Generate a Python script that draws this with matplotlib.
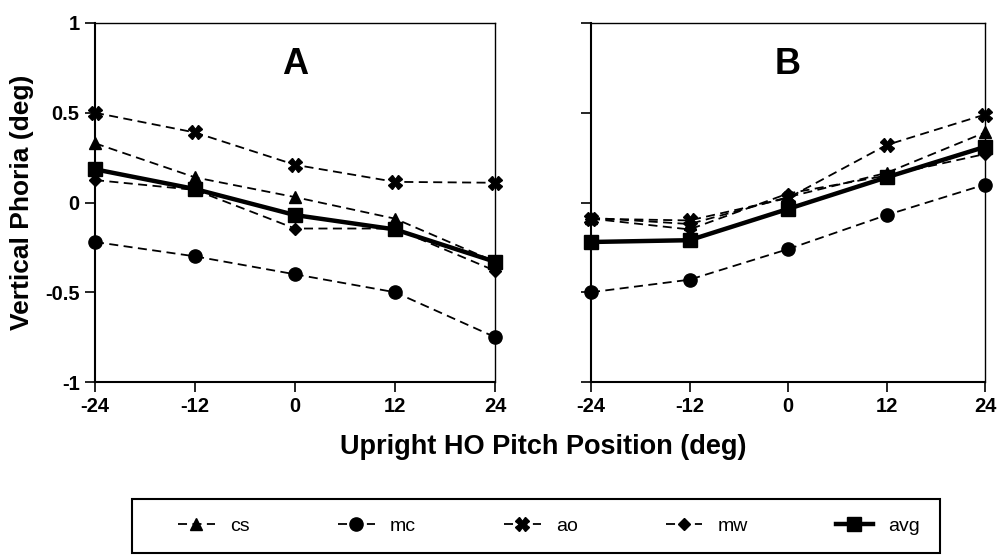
import matplotlib
matplotlib.use("Agg")
import matplotlib.pyplot as plt
from matplotlib.lines import Line2D
from matplotlib.patches import Rectangle

plt.rcParams['font.family'] = ['Liberation Sans', 'DejaVu Sans']
plt.rcParams['font.weight'] = 'bold'

positions = [-24, -12, 0, 12, 24]
xtick_labels = ['-24', '-12', '0', '12', '24']
yticks = [-1, -0.5, 0, 0.5, 1]
ytick_labels = ['-1', '-0.5', '0', '0.5', '1']
series_names = ['cs', 'mc', 'ao', 'mw', 'avg']

# Panel A
cs_A = [0.33, 0.14, 0.03, -0.09, -0.33]
mc_A = [-0.22, -0.30, -0.40, -0.50, -0.75]
ao_A = [0.50, 0.39, 0.21, 0.115, 0.11]
mw_A = [0.125, 0.07, -0.145, -0.145, -0.38]
avg_A = [0.185, 0.075, -0.07, -0.15, -0.33]

# Panel B
cs_B = [-0.085, -0.12, 0.03, 0.165, 0.39]
mc_B = [-0.50, -0.43, -0.26, -0.07, 0.10]
ao_B = [-0.09, -0.10, 0.025, 0.32, 0.49]
mw_B = [-0.09, -0.15, 0.05, 0.15, 0.27]
avg_B = [-0.22, -0.21, -0.036, 0.14, 0.31]

styles = {
    'cs': dict(marker='^', ms=8.5, ls=(0, (5, 3)), lw=1.3),
    'mc': dict(marker='o', ms=9.5, ls=(0, (5, 3)), lw=1.3),
    'ao': dict(marker='X', ms=9.5, ls=(0, (5, 3)), lw=1.3),
    'mw': dict(marker='D', ms=6.5, ls=(0, (5, 3)), lw=1.3),
    'avg': dict(marker='s', ms=9.5, ls='-', lw=3.2),
}

fig = plt.figure(figsize=(9.99, 5.58), dpi=100)
axA = fig.add_axes([95/999, 1-382/558, 400/999, 359/558])
axB = fig.add_axes([591/999, 1-382/558, 394/999, 359/558])

panels = [
    (axA, 'A', [cs_A, mc_A, ao_A, mw_A, avg_A]),
    (axB, 'B', [cs_B, mc_B, ao_B, mw_B, avg_B]),
]

for ax, title, data in panels:
    for name, vals in zip(series_names, data):
        ax.plot(positions, vals, color='black', clip_on=False, zorder=3,
                **styles[name])
    ax.set_xlim(-24, 24)
    ax.set_ylim(-1, 1)
    ax.set_xticks(positions)
    ax.set_xticklabels(xtick_labels, fontsize=14.5, fontweight='bold')
    ax.set_yticks(yticks)
    ax.tick_params(axis='both', direction='out', length=7, width=1.2, pad=4)
    for s in ['left', 'bottom']:
        ax.spines[s].set_linewidth(1.5)
    for s in ['top', 'right']:
        ax.spines[s].set_linewidth(1.0)
    ax.text(0, 0.77, title, ha='center', va='center', fontsize=26,
            fontweight='bold')

axA.set_yticklabels(ytick_labels, fontsize=14.5, fontweight='bold')
axB.set_yticklabels([])
axA.set_ylabel('Vertical Phoria (deg)', fontsize=19, fontweight='bold', labelpad=8)

fig.text(543/999, 1-447/558, 'Upright HO Pitch Position (deg)', ha='center',
         va='center', fontsize=19.5, fontweight='bold')

# legend frame
fig.patches.append(Rectangle((132/999, 1-553/558), (940-132)/999, 54/558,
                             transform=fig.transFigure, fill=False,
                             edgecolor='black', linewidth=1.5))

handles = [Line2D([], [], color='black', **styles[n]) for n in series_names]
leg = fig.legend(handles, series_names, loc='center left', ncol=5,
                 bbox_to_anchor=(178/999, 1-526/558), frameon=False,
                 handlelength=1.9, handletextpad=0.8, columnspacing=4.5,
                 borderpad=0, borderaxespad=0,
                 prop={'size': 14, 'weight': 'normal'})

fig.savefig('out.png', dpi=100)
